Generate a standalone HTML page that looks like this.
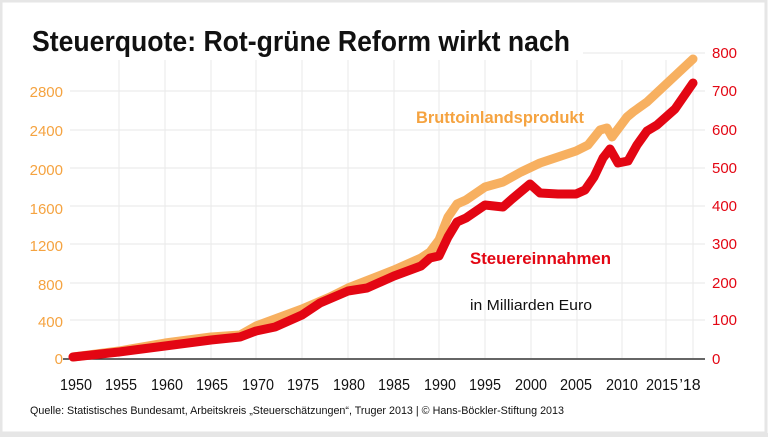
<!DOCTYPE html>
<html><head><meta charset="utf-8"><style>
html,body{margin:0;padding:0;background:#fff}
svg{display:block}
text{font-family:"Liberation Sans",sans-serif}
</style></head><body>
<svg width="768" height="437" viewBox="0 0 768 437">
<rect x="0" y="0" width="768" height="437" fill="#fff"/>
<rect x="1" y="1" width="765" height="432" fill="none" stroke="#e6e6e6" stroke-width="3"/>
<rect x="0" y="433" width="768" height="4" fill="#e6e6e6"/>
<text x="32" y="51" font-size="29" font-weight="bold" fill="#111" textLength="538" lengthAdjust="spacingAndGlyphs">Steuerquote: Rot-grüne Reform wirkt nach</text>
<g stroke="#ececec" stroke-width="1.2">
<line x1="583" y1="53" x2="705" y2="53"/>
<line x1="70" y1="91" x2="705" y2="91"/>
<line x1="70" y1="130" x2="705" y2="130"/>
<line x1="70" y1="168" x2="705" y2="168"/>
<line x1="70" y1="206" x2="705" y2="206"/>
<line x1="70" y1="244" x2="705" y2="244"/>
<line x1="70" y1="283" x2="705" y2="283"/>
<line x1="70" y1="320" x2="705" y2="320"/>
<line x1="119" y1="60" x2="119" y2="358"/><line x1="165" y1="60" x2="165" y2="358"/>
<line x1="211" y1="60" x2="211" y2="358"/><line x1="256" y1="60" x2="256" y2="358"/>
<line x1="302" y1="60" x2="302" y2="358"/><line x1="348" y1="60" x2="348" y2="358"/>
<line x1="394" y1="60" x2="394" y2="358"/><line x1="439" y1="60" x2="439" y2="358"/>
<line x1="485" y1="60" x2="485" y2="358"/><line x1="531" y1="60" x2="531" y2="358"/>
<line x1="577" y1="60" x2="577" y2="358"/><line x1="622" y1="60" x2="622" y2="358"/>
<line x1="666" y1="60" x2="666" y2="358"/><line x1="693" y1="60" x2="693" y2="358"/>
</g>
<line x1="63" y1="359" x2="705" y2="359" stroke="#333" stroke-width="1.5"/>
<g font-size="15" fill="#f5a340" text-anchor="end">
<text x="63" y="97">2800</text><text x="63" y="136">2400</text><text x="63" y="175">2000</text>
<text x="63" y="214">1600</text><text x="63" y="251">1200</text><text x="63" y="290">800</text>
<text x="63" y="327">400</text><text x="63" y="364">0</text>
</g>
<g font-size="15" fill="#e30613">
<text x="712" y="58">800</text><text x="712" y="96">700</text><text x="712" y="135">600</text>
<text x="712" y="173">500</text><text x="712" y="211">400</text><text x="712" y="249">300</text>
<text x="712" y="288">200</text><text x="712" y="325">100</text><text x="712" y="364">0</text>
</g>
<polyline fill="none" stroke="#f7b060" stroke-width="9" stroke-linejoin="round" stroke-linecap="round"
points="73,357 119,351 165,343 211,337 240,335 256,326 302,309 330,297 348,288 394,270 421,258 430,252 439,240 448,217 457,204 466,200 485,187 503,182 521,172 540,163 558,157 576,151 588,145 600,130 607,128 612,137 627,117 633,112 647,102 693,59"/>
<polyline fill="none" stroke="#e30613" stroke-width="9" stroke-linejoin="round" stroke-linecap="round"
points="73,357 119,352 165,346 211,340 240,337 256,331 275,327 302,315 320,303 348,291 367,288 394,276 421,266 430,258 439,256 448,237 457,222 466,218 485,205 503,207 512,199 530,184 540,193 558,194 576,194 585,190 594,177 603,158 610,149 618,163 628,161 637,145 647,131 657,125 675,109 693,83"/>
<text x="416" y="123" font-size="17" font-weight="bold" fill="#f5a340" textLength="168" lengthAdjust="spacingAndGlyphs">Bruttoinlandsprodukt</text>
<text x="470" y="264" font-size="17" font-weight="bold" fill="#e30613" textLength="141" lengthAdjust="spacingAndGlyphs">Steuereinnahmen</text>
<text x="470" y="310" font-size="15" fill="#111" textLength="122" lengthAdjust="spacingAndGlyphs">in Milliarden Euro</text>
<g font-size="16" fill="#111" text-anchor="middle">
<text x="76" y="390" textLength="32" lengthAdjust="spacingAndGlyphs">1950</text><text x="121" y="390" textLength="32" lengthAdjust="spacingAndGlyphs">1955</text><text x="167" y="390" textLength="32" lengthAdjust="spacingAndGlyphs">1960</text>
<text x="212" y="390" textLength="32" lengthAdjust="spacingAndGlyphs">1965</text><text x="258" y="390" textLength="32" lengthAdjust="spacingAndGlyphs">1970</text><text x="303" y="390" textLength="32" lengthAdjust="spacingAndGlyphs">1975</text>
<text x="349" y="390" textLength="32" lengthAdjust="spacingAndGlyphs">1980</text><text x="394" y="390" textLength="32" lengthAdjust="spacingAndGlyphs">1985</text><text x="440" y="390" textLength="32" lengthAdjust="spacingAndGlyphs">1990</text>
<text x="485" y="390" textLength="32" lengthAdjust="spacingAndGlyphs">1995</text><text x="531" y="390" textLength="32" lengthAdjust="spacingAndGlyphs">2000</text><text x="576" y="390" textLength="32" lengthAdjust="spacingAndGlyphs">2005</text>
<text x="622" y="390" textLength="32" lengthAdjust="spacingAndGlyphs">2010</text><text x="662" y="390" textLength="32" lengthAdjust="spacingAndGlyphs">2015</text><text x="690" y="390">’18</text>
</g>
<text x="30" y="414" font-size="11" fill="#111" textLength="534" lengthAdjust="spacingAndGlyphs">Quelle: Statistisches Bundesamt, Arbeitskreis „Steuerschätzungen“, Truger 2013 | © Hans-Böckler-Stiftung 2013</text>
</svg>
</body></html>
